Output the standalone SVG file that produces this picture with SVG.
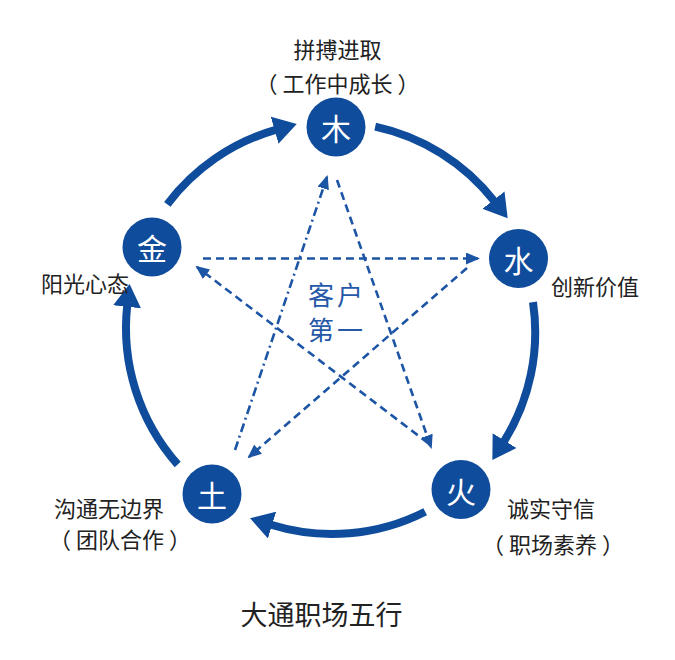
<svg xmlns="http://www.w3.org/2000/svg" width="675" height="660" viewBox="0 0 675 660">
<style>
.arc{fill:none;stroke:#0f4c9b;stroke-width:8;marker-end:url(#bigArrow)}
.star{fill:none;stroke:#1d55a5;stroke-width:2.6;stroke-dasharray:8 5;marker-end:url(#smallArrow)}
.dd{stroke-dasharray:9 4 2 4}
.node{fill:#0f4c9b}
.nt{fill:#fff;font-family:"Noto Sans CJK SC","Noto Sans",sans-serif;font-size:30px;text-anchor:middle;dominant-baseline:central}
.lbl{fill:#222;font-family:"Noto Sans CJK SC","Noto Sans",sans-serif;font-size:22px;dominant-baseline:central}
.ctr{fill:#2658a8;font-family:"Noto Sans CJK SC","Noto Sans",sans-serif;font-size:26px;text-anchor:middle;dominant-baseline:central;letter-spacing:3px}
.title{fill:#222;font-family:"Noto Sans CJK SC","Noto Sans",sans-serif;font-size:27px;text-anchor:middle;dominant-baseline:central}
</style>
<defs>
<marker id="bigArrow" markerUnits="userSpaceOnUse" markerWidth="24" markerHeight="28" viewBox="0 0 24 28" refX="1" refY="14" orient="auto">
<path d="M0,0 L23,14 L0,28 z" fill="#0f4c9b"/>
</marker>
<marker id="smallArrow" markerUnits="userSpaceOnUse" markerWidth="14" markerHeight="12" viewBox="0 0 14 12" refX="12" refY="6" orient="auto">
<path d="M0,0 L14,6 L0,12 z" fill="#1d55a5"/>
</marker>
</defs>
<rect width="675" height="660" fill="#fff"/>
<g id="connectors">
<path class="arc" d="M167.3,204.3 A206,206 0 0 1 275.6,129.9"/>
<path class="arc" d="M375.2,126.6 A206,206 0 0 1 494.1,200.9"/>
<path class="arc" d="M533,302.2 A206,206 0 0 1 504.0,441.4"/>
<path class="arc" d="M425.2,511.7 A206,206 0 0 1 271.1,524.8"/>
<path class="arc" d="M177.7,464.5 A206,206 0 0 1 127.2,305.8"/>
<path class="star" d="M203,258.5 L478,258.5"/>
<path class="star" d="M428,443 L197,267"/>
<path class="star" d="M467,268 L249,457"/>
<path class="star dd" d="M235,450 L327,177"/>
<path class="star" d="M337,180 L431,447"/>
</g>
<g id="node-mu"><circle class="node" cx="336" cy="127" r="29.5"/><text class="nt" x="336" y="127">木</text></g>
<g id="node-jin"><circle class="node" cx="152" cy="247" r="29.5"/><text class="nt" x="152" y="247">金</text></g>
<g id="node-shui"><circle class="node" cx="518.5" cy="258.5" r="29.5"/><text class="nt" x="518.5" y="258.5">水</text></g>
<g id="node-tu"><circle class="node" cx="212" cy="494" r="29.5"/><text class="nt" x="212" y="494">土</text></g>
<g id="node-huo"><circle class="node" cx="461" cy="489.5" r="29.5"/><text class="nt" x="461" y="489.5">火</text></g>
<g id="labels">
<text class="lbl" x="337.5" y="48" text-anchor="middle">拼搏进取</text>
<text class="lbl" x="337.5" y="82" text-anchor="middle" xml:space="preserve">（ 工作中成长 ）</text>
<text class="lbl" x="551" y="285">创新价值</text>
<text class="lbl" x="41" y="282">阳光心态</text>
<text class="lbl" x="54" y="507">沟通无边界</text>
<text class="lbl" x="120" y="538" text-anchor="middle" xml:space="preserve">（ 团队合作 ）</text>
<text class="lbl" x="507" y="507">诚实守信</text>
<text class="lbl" x="553" y="543" text-anchor="middle" xml:space="preserve">（ 职场素养 ）</text>
</g>
<g id="center">
<text class="ctr" x="337" y="293">客户</text>
<text class="ctr" x="337" y="328">第一</text>
</g>
<text class="title" x="321.5" y="613">大通职场五行</text>
</svg>
